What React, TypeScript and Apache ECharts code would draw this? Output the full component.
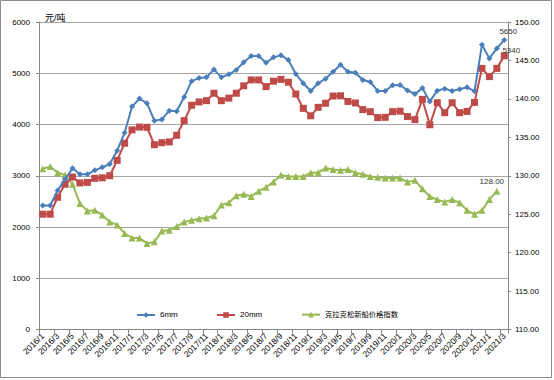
import React, { useEffect, useRef } from "react";
import * as echarts from "echarts";

const months: string[] = [];
for (let y = 2016; y <= 2021; y++) {
  for (let m = 1; m <= 12; m++) {
    if (y === 2021 && m > 3) break;
    months.push(`${y}/${m}`);
  }
}

const plate6mm = [
  2420, 2420, 2710, 2930, 3145, 3030, 3030, 3105, 3165, 3230,
  3490, 3840, 4350, 4505, 4415, 4075, 4100, 4270, 4260, 4535,
  4845, 4905, 4920, 5075, 4920, 4980, 5065, 5215, 5335, 5335,
  5205, 5310, 5350, 5260, 4985, 4805, 4655, 4805, 4895, 5030,
  5165, 5030, 5010, 4870, 4830, 4655, 4655, 4765, 4770, 4665,
  4595, 4710, 4450, 4660, 4700, 4655, 4690, 4725, 4650, 5555,
  5290, 5485, 5650,
];

const plate20mm = [
  2250, 2250, 2580, 2835, 2975, 2860, 2870, 2950, 2960, 3000,
  3300, 3635, 3895, 3950, 3945, 3605, 3645, 3660, 3790, 4075,
  4375, 4440, 4465, 4610, 4465, 4515, 4610, 4755, 4870, 4870,
  4740, 4845, 4880, 4825, 4595, 4315, 4170, 4335, 4415, 4555,
  4560, 4450, 4420, 4290, 4250, 4135, 4140, 4250, 4260, 4155,
  4095, 4490, 3995, 4425, 4230, 4425, 4230, 4255, 4430, 5095,
  4935, 5095, 5340,
];

const clarksonIndex = [
  130.9, 131.2, 130.4, 130.1, 128.9, 126.4, 125.4, 125.5, 124.9, 124.0,
  123.6, 122.5, 121.9, 121.9, 121.2, 121.4, 122.8, 122.9, 123.4, 124.0,
  124.2, 124.4, 124.5, 124.8, 126.2, 126.5, 127.4, 127.6, 127.3, 128.0,
  128.5, 129.2, 130.1, 129.9, 129.9, 129.9, 130.4, 130.4, 131.0, 130.8,
  130.7, 130.8, 130.4, 130.2, 129.9, 129.8, 129.7, 129.7, 129.7, 129.2,
  129.4, 128.3, 127.3, 126.9, 126.6, 126.9, 126.5, 125.5, 125.0, 125.5,
  126.9, 128.0,
];

const seriesNames = ["6mm", "20mm", "克拉克松新船价格指数"];
const FONT = '"Liberation Sans", "Noto Sans CJK SC", sans-serif';

function withLastLabel(arr: number[], label: any) {
  return arr.map((v, i) =>
    i === arr.length - 1 ? { value: v, label: { show: true, ...label } } : v
  );
}

export default function App() {
  const ref = useRef<HTMLDivElement>(null);
  useEffect(() => {
    if (!ref.current) return;
    const chart = echarts.init(ref.current, null, { renderer: "svg" });
    const legendBase = {
      top: 306,
      itemWidth: 18,
      itemHeight: 7,
      itemGap: 4,
      textStyle: { fontSize: 8, color: "#000", fontFamily: FONT },
    };
    chart.setOption({
      animation: false,
      textStyle: { fontFamily: FONT },
      title: {
        text: "元/吨",
        left: 40,
        top: 8,
        textStyle: { fontSize: 9, fontWeight: "normal", color: "#000", fontFamily: FONT },
      },
      graphic: [
        {
          type: "rect",
          shape: { x: 0.5, y: 0.5, width: 551, height: 377 },
          style: { fill: "none", stroke: "#8c8c8c", lineWidth: 1 },
          silent: true,
        },
      ],
      legend: [
        { ...legendBase, left: 131, data: [seriesNames[0]] },
        { ...legendBase, left: 211, data: [seriesNames[1]] },
        {
          ...legendBase,
          left: 296,
          data: [seriesNames[2]],
          textStyle: { ...legendBase.textStyle, fontSize: 7.3 },
        },
      ],
      grid: { left: 39, right: 46, top: 22, bottom: 50.5, containLabel: false },
      xAxis: {
        type: "category",
        data: months,
        boundaryGap: true,
        axisLine: { lineStyle: { color: "#868686", width: 1 } },
        axisTick: { show: true, interval: 1, length: 4, lineStyle: { color: "#868686" } },
        axisLabel: {
          interval: 1,
          rotate: 45,
          fontSize: 8.5,
          color: "#000",
          margin: 5,
          fontFamily: FONT,
        },
        splitLine: { show: false },
      },
      yAxis: [
        {
          type: "value",
          min: 0,
          max: 6000,
          interval: 1000,
          axisLine: { show: true, lineStyle: { color: "#868686" } },
          axisTick: { show: true, length: 3, lineStyle: { color: "#868686" } },
          axisLabel: {
            fontSize: 8,
            color: "#000",
            margin: 9,
            fontFamily: FONT,
            formatter: (v: number) => String(v),
          },
          splitLine: { show: true, lineStyle: { color: "#a6a6a6", width: 1 } },
        },
        {
          type: "value",
          min: 110,
          max: 150,
          interval: 5,
          position: "right",
          axisLine: { show: true, lineStyle: { color: "#868686" } },
          axisTick: { show: true, length: 3, lineStyle: { color: "#868686" } },
          axisLabel: {
            fontSize: 8,
            color: "#000",
            margin: 7,
            fontFamily: FONT,
            formatter: (v: number) => v.toFixed(2),
          },
          splitLine: { show: false },
        },
      ],
      series: [
        {
          name: seriesNames[0],
          type: "line",
          yAxisIndex: 0,
          data: withLastLabel(plate6mm, {
            position: "top",
            distance: 2,
            offset: [4, 1],
            fontSize: 8,
            color: "#333",
          }),
          symbol: "diamond",
          symbolSize: 6,
          showSymbol: true,
          showAllSymbol: true,
          lineStyle: { color: "#4a7ebb", width: 2 },
          itemStyle: { color: "#4a7ebb" },
          z: 4,
        },
        {
          name: seriesNames[1],
          type: "line",
          yAxisIndex: 0,
          data: withLastLabel(plate20mm, {
            position: "top",
            distance: 0,
            offset: [7, 2],
            fontSize: 8,
            color: "#333",
          }),
          symbol: "rect",
          symbolSize: 7,
          showSymbol: true,
          showAllSymbol: true,
          lineStyle: { color: "#be4b48", width: 2 },
          itemStyle: { color: "#be4b48" },
          z: 3,
        },
        {
          name: seriesNames[2],
          type: "line",
          yAxisIndex: 1,
          data: withLastLabel(clarksonIndex, {
            position: "top",
            distance: 2,
            offset: [-5, 0],
            fontSize: 8,
            color: "#333",
            formatter: (p: any) => Number(p.value).toFixed(2),
          }),
          symbol: "triangle",
          symbolSize: 7,
          showSymbol: true,
          showAllSymbol: true,
          lineStyle: { color: "#98b954", width: 2 },
          itemStyle: { color: "#98b954" },
          z: 2,
        },
      ],
    });
    return () => chart.dispose();
  }, []);
  return (
    <div
      ref={ref}
      style={{ position: "fixed", left: 0, top: 0, width: 554, height: 380, background: "#fff" }}
    />
  );
}
